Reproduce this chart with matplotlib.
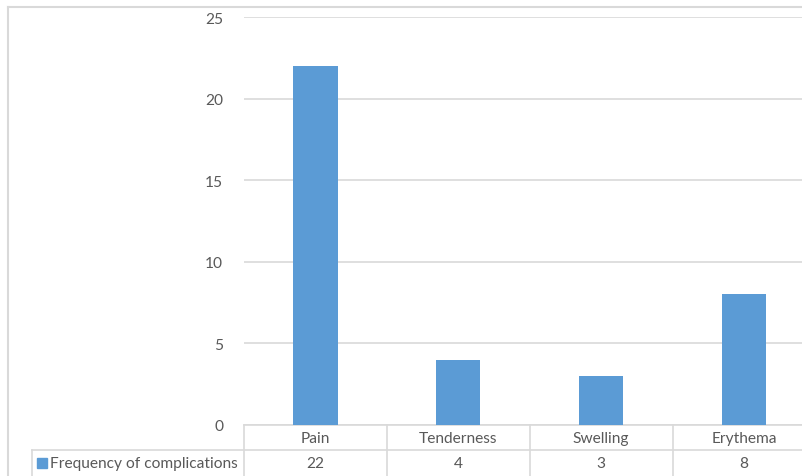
import matplotlib.pyplot as plt
import matplotlib.transforms as mtransforms
from matplotlib.lines import Line2D
from matplotlib.patches import Rectangle

categories = ['Pain', 'Tenderness', 'Swelling', 'Erythema']
frequency = [22, 4, 3, 8]
series_name = 'Frequency of complications'
y_ticks = [0, 5, 10, 15, 20, 25]

W, H = 803, 477
BAR = '#5b9bd5'
GRID = '#d9d9d9'
TEXT = '#595959'
FS = 11.2

plt.rcParams['font.family'] = ['Lato', 'DejaVu Sans']

fig = plt.figure(figsize=(W / 100, H / 100), dpi=100)


def px(x, y):
    # pixel coords (from top-left) -> figure fraction
    return x / W, 1 - y / H


# plot area, spills past the right edge like the reference crop
left, right, top, bottom = 244, 815.5, 18, 426
ax = fig.add_axes([left / W, 1 - bottom / H, (right - left) / W, (bottom - top) / H])
x = range(len(categories))
ax.bar(x, frequency, width=0.31, color=BAR, zorder=3)
ax.set_xlim(-0.5, len(categories) - 0.5)
ax.set_ylim(0, 25)
ax.set_yticks(y_ticks)
ax.set_xticks([])
ax.yaxis.grid(True, color=GRID, linewidth=1.2, zorder=0)
for s in ['left', 'right', 'top']:
    ax.spines[s].set_visible(False)
ax.spines['bottom'].set_color(GRID)
ax.spines['bottom'].set_linewidth(1.2)
ax.tick_params(axis='y', length=0, pad=15, labelsize=FS, labelcolor=TEXT)

# chart area border (top and left edges visible)
fig.add_artist(Line2D([px(8, 8)[0], 1], [px(8, 8)[1]] * 2, transform=fig.transFigure,
                      color=GRID, lw=1.5))
fig.add_artist(Line2D([px(8, 8)[0]] * 2, [px(8, 8)[1], 0], transform=fig.transFigure,
                      color=GRID, lw=1.5))

# data table under the axis
trans = mtransforms.blended_transform_factory(ax.transData, fig.transFigure)
row1_y, row2_y = 426, 451
edges = [i - 0.5 for i in range(len(categories) + 1)]
for e in edges[:-1]:
    ax.add_artist(Line2D([e, e], [px(0, row1_y)[1], 0], transform=trans, color=GRID,
                         lw=1.2, clip_on=False))
ax.add_artist(Line2D([32 / W, 1], [px(0, row2_y)[1]] * 2, transform=fig.transFigure,
                     color=GRID, lw=1.2, clip_on=False))
ax.add_artist(Line2D([32 / W] * 2, [px(0, row2_y)[1], 0], transform=fig.transFigure,
                     color=GRID, lw=1.2, clip_on=False))

for i, (cat, val) in enumerate(zip(categories, frequency)):
    fig.text(i, px(0, 439)[1], cat, transform=trans, ha='center', va='center',
             fontsize=FS, color=TEXT)
    fig.text(i, px(0, 464)[1], str(val), transform=trans, ha='center', va='center',
             fontsize=FS, color=TEXT)

fig.add_artist(Rectangle(px(37, 469), 10 / W, 10 / H, transform=fig.transFigure,
                         color=BAR))
fig.text(*px(50, 464), series_name, ha='left', va='center', fontsize=FS, color=TEXT)

fig.savefig('out.png', dpi=100)
